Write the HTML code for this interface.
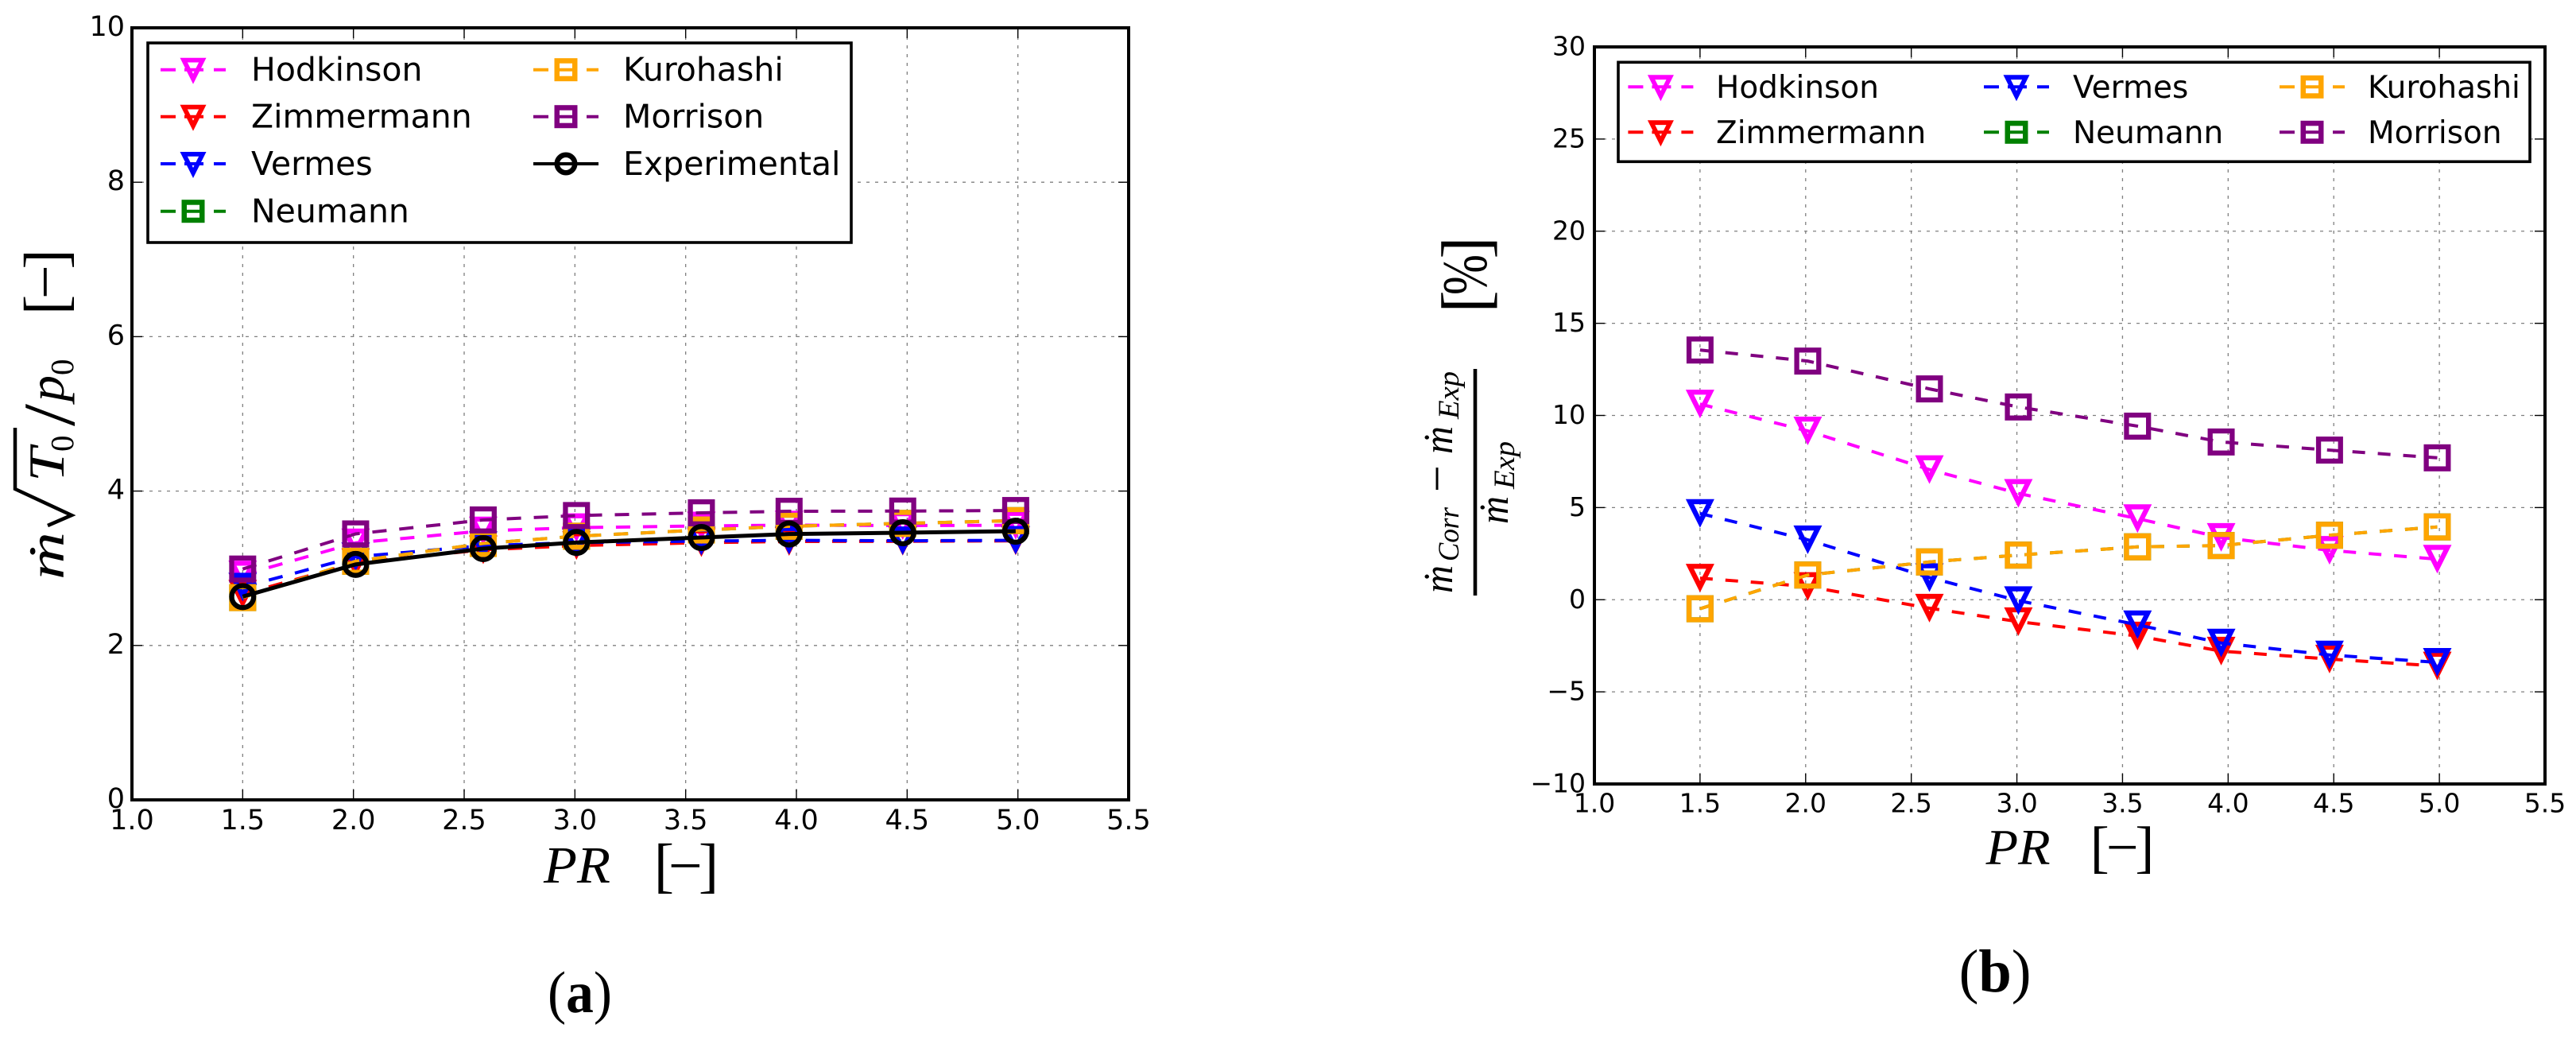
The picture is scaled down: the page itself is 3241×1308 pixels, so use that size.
<!DOCTYPE html>
<html lang="en">
<head>
<meta charset="utf-8">
<title>Mass flow correlations versus pressure ratio</title>
<style>
html,body{margin:0;padding:0;background:#fff;}
svg{display:block;}
.tick{font-family:"DejaVu Sans","Liberation Sans",sans-serif;fill:#000;}
.legend-text{font-family:"DejaVu Sans","Liberation Sans",sans-serif;fill:#000;}
.math{font-family:"Liberation Serif",serif;font-style:italic;fill:#000;}
.mathr{font-family:"Liberation Serif",serif;fill:#000;}
</style>
</head>
<body>
<svg id="figure" xmlns="http://www.w3.org/2000/svg" width="3241" height="1308" viewBox="0 0 3241 1308">
<rect x="0" y="0" width="3241" height="1308" fill="#fff"/>

<g id="panel-a"></g>
<g id="panel-b"></g>

<g>
<text class="math" x="684" y="1110" font-size="66" textLength="84" lengthAdjust="spacingAndGlyphs">PR</text>
<text class="mathr" x="822.7" y="1114" font-size="76">[</text>
<text class="mathr" x="841" y="1114" font-size="76">−</text>
<text class="mathr" x="878.9" y="1114" font-size="76">]</text>
</g>

<g>
<text class="math" transform="translate(80,729) rotate(-90)" font-size="64" textLength="60" lengthAdjust="spacingAndGlyphs">ṁ</text>
<polyline points="19,538 19,615 90,648 60,661" fill="none" stroke="#000" stroke-width="4.5" stroke-linejoin="miter"/>
<text class="math" transform="translate(80,606) rotate(-90)" font-size="64" textLength="43" lengthAdjust="spacingAndGlyphs">T</text>
<text class="mathr" transform="translate(92,568) rotate(-90)" font-size="41">0</text>
<text class="mathr" transform="translate(93,536) rotate(-90)" font-size="92" textLength="28" lengthAdjust="spacingAndGlyphs">/</text>
<text class="math" transform="translate(80,505) rotate(-90)" font-size="64" textLength="33" lengthAdjust="spacingAndGlyphs">p</text>
<text class="mathr" transform="translate(92,472) rotate(-90)" font-size="41">0</text>
<text class="mathr" transform="translate(83,396) rotate(-90)" font-size="76">[</text>
<text class="mathr" transform="translate(82,376) rotate(-90)" font-size="76">−</text>
<text class="mathr" transform="translate(83,338.6) rotate(-90)" font-size="76">]</text>
</g>

<text class="mathr" x="689" y="1273" font-size="74" textLength="81" lengthAdjust="spacingAndGlyphs">(<tspan font-weight="bold">a</tspan>)</text>

<g>
<text class="math" x="2498.7" y="1087" font-size="64" textLength="81" lengthAdjust="spacingAndGlyphs">PR</text>
<text class="mathr" x="2629.7" y="1089.5" font-size="72">[</text>
<text class="mathr" x="2650" y="1089.5" font-size="72">−</text>
<text class="mathr" x="2686.4" y="1089.5" font-size="72">]</text>
</g>

<g>
<text class="mathr" transform="translate(1872,393.5) rotate(-90)" font-size="85">[</text>
<text class="mathr" transform="translate(1870,371) rotate(-90)" font-size="80" textLength="51" lengthAdjust="spacingAndGlyphs">%</text>
<text class="mathr" transform="translate(1872,325.8) rotate(-90)" font-size="85">]</text>
<text class="math" transform="translate(1827,746) rotate(-90)" font-size="52" textLength="35" lengthAdjust="spacingAndGlyphs">ṁ</text>
<text class="math" transform="translate(1835,706) rotate(-90)" font-size="37" textLength="68" lengthAdjust="spacingAndGlyphs">Corr</text>
<text class="mathr" transform="translate(1828,619) rotate(-90)" font-size="60">−</text>
<text class="math" transform="translate(1827,571) rotate(-90)" font-size="52" textLength="35" lengthAdjust="spacingAndGlyphs">ṁ</text>
<text class="math" transform="translate(1835,527) rotate(-90)" font-size="37" textLength="60" lengthAdjust="spacingAndGlyphs">Exp</text>
<line x1="1856" y1="464" x2="1856" y2="749" stroke="#000" stroke-width="4.6"/>
<text class="math" transform="translate(1897,659) rotate(-90)" font-size="52" textLength="35" lengthAdjust="spacingAndGlyphs">ṁ</text>
<text class="math" transform="translate(1905,615) rotate(-90)" font-size="37" textLength="60" lengthAdjust="spacingAndGlyphs">Exp</text>
</g>

<text class="mathr" x="2464.6" y="1247" font-size="76" textLength="91" lengthAdjust="spacingAndGlyphs">(<tspan font-weight="bold">b</tspan>)</text>
</svg>

<script>
const prValues = [1.5, 2.01, 2.586, 3.007, 3.571, 3.967, 4.48, 4.99];

const xTickValues = [1.0, 1.5, 2.0, 2.5, 3.0, 3.5, 4.0, 4.5, 5.0, 5.5];
const xTickLabels = ['1.0', '1.5', '2.0', '2.5', '3.0', '3.5', '4.0', '4.5', '5.0', '5.5'];
const yTickValuesA = [0, 2, 4, 6, 8, 10];
const yTickLabelsA = ['0', '2', '4', '6', '8', '10'];
const yTickValuesB = [-10, -5, 0, 5, 10, 15, 20, 25, 30];
const yTickLabelsB = ['−10', '−5', '0', '5', '10', '15', '20', '25', '30'];

const hodkinsonA = [2.913, 3.329, 3.484, 3.526, 3.548, 3.559, 3.553, 3.557];
const zimmermannA = [2.664, 3.072, 3.239, 3.294, 3.331, 3.347, 3.349, 3.355];
const vermesA = [2.756, 3.149, 3.293, 3.332, 3.352, 3.362, 3.356, 3.362];
const neumannA = [2.62, 3.091, 3.321, 3.415, 3.496, 3.544, 3.581, 3.617];
const kurohashiA = [2.62, 3.091, 3.321, 3.415, 3.496, 3.544, 3.581, 3.617];
const morrisonA = [2.99, 3.445, 3.626, 3.683, 3.718, 3.738, 3.741, 3.748];
const experimentalA = [2.633, 3.05, 3.254, 3.334, 3.398, 3.443, 3.46, 3.48];

const hodkinsonB = [10.62, 9.16, 7.06, 5.77, 4.4, 3.38, 2.68, 2.2];
const zimmermannB = [1.17, 0.72, -0.46, -1.19, -1.97, -2.79, -3.22, -3.6];
const vermesB = [4.68, 3.25, 1.2, -0.05, -1.36, -2.35, -3.0, -3.4];
const neumannB = [-0.49, 1.34, 2.05, 2.42, 2.87, 2.94, 3.5, 3.95];
const kurohashiB = [-0.49, 1.34, 2.05, 2.42, 2.87, 2.94, 3.5, 3.95];
const morrisonB = [13.55, 12.95, 11.44, 10.46, 9.42, 8.56, 8.12, 7.7];

const legendNamesA = ['Hodkinson', 'Zimmermann', 'Vermes', 'Neumann', 'Kurohashi', 'Morrison', 'Experimental'];
const legendNamesB = ['Hodkinson', 'Zimmermann', 'Vermes', 'Neumann', 'Kurohashi', 'Morrison'];

const seriesLook = {
  Hodkinson: {color: '#ff00ff', marker: 'tri'},
  Zimmermann: {color: '#ff0000', marker: 'tri'},
  Vermes: {color: '#0000ff', marker: 'tri'},
  Neumann: {color: '#008000', marker: 'sq'},
  Kurohashi: {color: '#ffa500', marker: 'sq'},
  Morrison: {color: '#800080', marker: 'sq'},
  Experimental: {color: '#000000', marker: 'circ'}
};

const SVGNS = 'http://www.w3.org/2000/svg';

function shape(tag, parent, props) {
  const el = document.createElementNS(SVGNS, tag);
  for (const k in props) el.setAttribute(k, props[k]);
  parent.appendChild(el);
  return el;
}

function slug(s) {
  return s.toLowerCase();
}

function drawMarker(parent, kind, cx, cy, color, size, stroke, name) {
  let el;
  if (kind === 'tri') {
    const h = size / 2;
    const sideX = stroke * 1.118;
    const innerTop = -h + stroke;
    const innerHalf = h * (h - innerTop) / size - sideX;
    const innerApex = h - 2 * sideX;
    const d = 'M' + (cx - h) + ' ' + (cy - h) + 'L' + (cx + h) + ' ' + (cy - h) + 'L' + cx + ' ' + (cy + h) + 'Z' +
      'M' + (cx - innerHalf) + ' ' + (cy + innerTop) + 'L' + (cx + innerHalf) + ' ' + (cy + innerTop) + 'L' + cx + ' ' + (cy + innerApex) + 'Z';
    el = shape('path', parent, {d: d, fill: color, 'fill-rule': 'evenodd'});
  } else if (kind === 'sq') {
    const s = size - stroke;
    el = shape('rect', parent, {x: cx - s / 2, y: cy - s / 2, width: s, height: s, fill: 'none', stroke: color, 'stroke-width': stroke});
  } else {
    el = shape('circle', parent, {cx: cx, cy: cy, r: (size - stroke) / 2, fill: 'none', stroke: color, 'stroke-width': stroke});
  }
  
  
}

function drawPanel(root, box, yRange, yValues, yLabels, series, opts) {
  const xOf = function (v) { return box.left + (v - 1.0) / 4.5 * (box.right - box.left); };
  const yOf = function (v) { return box.bottom - (v - yRange[0]) / (yRange[1] - yRange[0]) * (box.bottom - box.top); };

  xTickValues.forEach(function (v, i) {
    const x = xOf(v);
    const grid = shape('line', root, {x1: x, y1: box.top, x2: x, y2: box.bottom, stroke: '#808080', 'stroke-width': 1.3, 'stroke-dasharray': '4 7'});
    
    
    const t1 = shape('line', root, {x1: x, y1: box.bottom, x2: x, y2: box.bottom - 13, stroke: '#000', 'stroke-width': 1.4});
    
    
    const t2 = shape('line', root, {x1: x, y1: box.top, x2: x, y2: box.top + 13, stroke: '#000', 'stroke-width': 1.4});
    
    
    const lab = shape('text', root, {x: x, y: opts.xLabelBase, 'text-anchor': 'middle', 'font-size': opts.tickFont, class: 'tick'});
    lab.textContent = xTickLabels[i];
    
    
  });

  yValues.forEach(function (v, i) {
    const y = yOf(v);
    const grid = shape('line', root, {x1: box.left, y1: y, x2: box.right, y2: y, stroke: '#808080', 'stroke-width': 1.3, 'stroke-dasharray': '4 7'});
    
    
    const t1 = shape('line', root, {x1: box.left, y1: y, x2: box.left + 13, y2: y, stroke: '#000', 'stroke-width': 1.4});
    
    
    const t2 = shape('line', root, {x1: box.right, y1: y, x2: box.right - 13, y2: y, stroke: '#000', 'stroke-width': 1.4});
    
    
    const lab = shape('text', root, {x: opts.yLabelRight, y: y + opts.yLabelDrop, 'text-anchor': 'end', 'font-size': opts.tickFont, class: 'tick'});
    lab.textContent = yLabels[i];
    
    
  });

  series.forEach(function (s) {
    const look = seriesLook[s.name];
    const pts = s.values.map(function (v, i) { return xOf(prValues[i]) + ',' + yOf(v); }).join(' ');
    const solid = s.name === 'Experimental';
    const line = shape('polyline', root, {points: pts, fill: 'none', stroke: look.color, 'stroke-width': solid ? 5 : 4, 'stroke-dasharray': solid ? 'none' : opts.dash});
    
    
    s.values.forEach(function (v, i) {
      drawMarker(root, look.marker, xOf(prValues[i]), yOf(v), look.color, look.marker === 'tri' ? 36 : 34, 6.3, slug(s.name) + '-marker');
    });
  });

  const spine = shape('rect', root, {x: box.left, y: box.top, width: box.right - box.left, height: box.bottom - box.top, fill: 'none', stroke: '#000', 'stroke-width': 4});
  
  

  const lg = shape('g', root, {});
  
  
  const frame = shape('rect', lg, {x: opts.legend.left, y: opts.legend.top, width: opts.legend.right - opts.legend.left, height: opts.legend.bottom - opts.legend.top, fill: '#fff', stroke: '#000', 'stroke-width': 3.6});
  
  

  opts.legend.names.forEach(function (name, i) {
    const look = seriesLook[name];
    const col = Math.floor(i / opts.legend.perCol);
    const row = i % opts.legend.perCol;
    const cx = opts.legend.colMarker[col];
    const rowY = opts.legend.rowY[row];
    const entry = shape('g', lg, {});
    
    
    const solid = name === 'Experimental';
    const h = shape('line', entry, {x1: cx - 41, y1: rowY, x2: cx + 41, y2: rowY, stroke: look.color, 'stroke-width': 4, 'stroke-dasharray': solid ? 'none' : '19 11 24 13 15'});
    
    
    drawMarker(entry, look.marker, cx, rowY + (look.marker === 'tri' ? 1.5 : 0), look.color, look.marker === 'tri' ? 33 : 29, look.marker === 'tri' ? 5.8 : 6.5, 'legend-marker');
    const txt = shape('text', entry, {x: opts.legend.colText[col], y: rowY + opts.legend.textDrop, 'font-size': opts.legend.font, class: 'legend-text'});
    txt.textContent = name;
    
    
  });
}

drawPanel(document.getElementById('panel-a'),
  {left: 166, right: 1420, top: 35, bottom: 1006},
  [0, 10], yTickValuesA, yTickLabelsA,
  [
    {name: 'Hodkinson', values: hodkinsonA},
    {name: 'Zimmermann', values: zimmermannA},
    {name: 'Vermes', values: vermesA},
    {name: 'Neumann', values: neumannA},
    {name: 'Kurohashi', values: kurohashiA},
    {name: 'Morrison', values: morrisonA},
    {name: 'Experimental', values: experimentalA}
  ],
  {
    tickFont: 35, xLabelBase: 1043, yLabelRight: 157, yLabelDrop: 10, dash: '18 16',
    legend: {
      left: 186, right: 1071, top: 54, bottom: 305, names: legendNamesA, perCol: 4,
      colMarker: [243, 712], colText: [316, 784], rowY: [87.7, 146.7, 206, 265.7], textDrop: 14, font: 41
    }
  });

drawPanel(document.getElementById('panel-b'),
  {left: 2006, right: 3202, top: 59, bottom: 986},
  [-10, 30], yTickValuesB, yTickLabelsB,
  [
    {name: 'Hodkinson', values: hodkinsonB},
    {name: 'Zimmermann', values: zimmermannB},
    {name: 'Vermes', values: vermesB},
    {name: 'Neumann', values: neumannB},
    {name: 'Kurohashi', values: kurohashiB},
    {name: 'Morrison', values: morrisonB}
  ],
  {
    tickFont: 33, xLabelBase: 1021.7, yLabelRight: 1995, yLabelDrop: 10.5, dash: '16 16',
    legend: {
      left: 2036, right: 3183, top: 78.3, bottom: 203.3, names: legendNamesB, perCol: 2,
      colMarker: [2089.4, 2537, 2909], colText: [2159, 2608, 2979], rowY: [109.3, 166.3], textDrop: 13.5, font: 39
    }
  });
</script>
</body>
</html>
